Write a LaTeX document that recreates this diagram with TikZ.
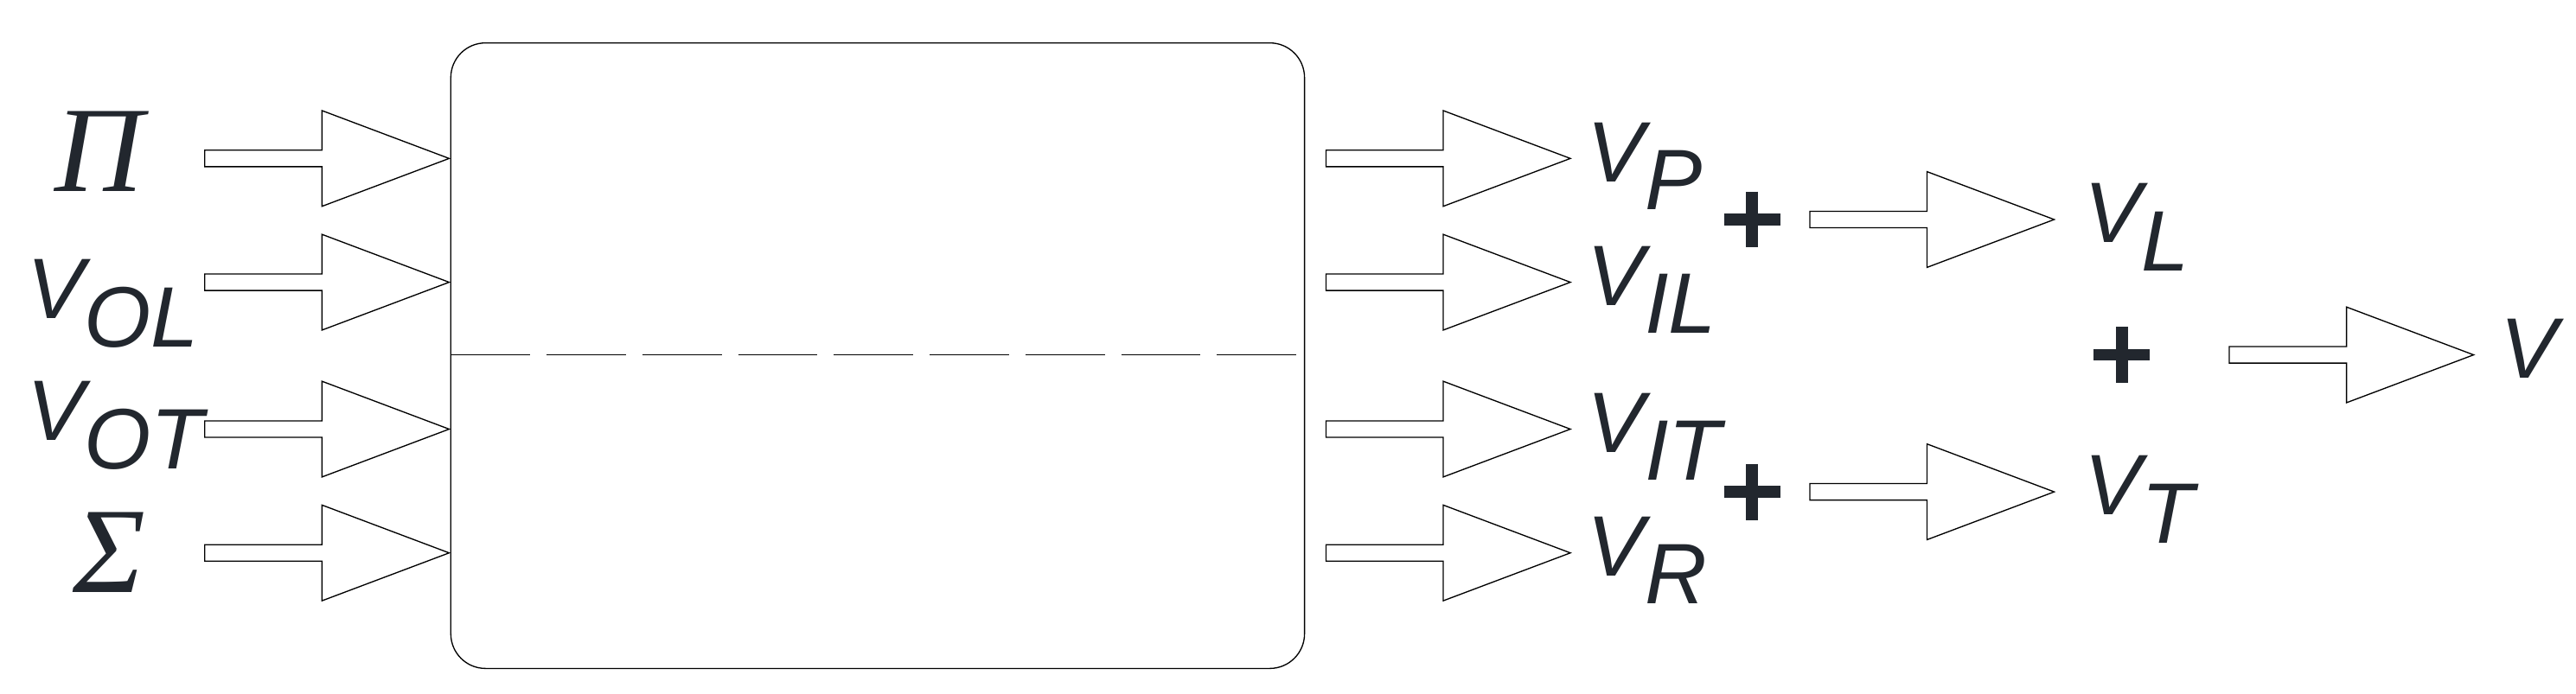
\documentclass[tikz,border=0pt]{standalone}
\usepackage{fontspec}
\newfontfamily\vf{Liberation Sans}
\newfontfamily\gf{Liberation Serif}
\definecolor{ink}{HTML}{22272E}
\begin{document}
\begin{tikzpicture}[x=0.5pt,y=-0.5pt,
  fat/.pic={\draw[line width=0.35pt] (0,-5)--(71,-5)--(71,-29)--(148,0)--(71,29)--(71,5)--(0,5)--cycle;},
  lab/.style={anchor=base west,inner sep=0pt,text=ink,font=\vf\itshape\fontsize{26}{26}\selectfont},
  glab/.style={anchor=base west,inner sep=0pt,text=ink,font=\gf\itshape\fontsize{37}{37}\selectfont},
  plus/.style={ink,line width=3.6pt}]
\useasboundingbox (0,0) rectangle (1560,420);
% box
\draw[line width=0.35pt,rounded corners=10.5pt] (273,26) rectangle (790,405);
\draw[line width=0.35pt,dash pattern=on 24pt off 5pt,dash phase=0pt] (273,215) -- (790,215);
% input arrows
\foreach \y/\n in {96/a,171/b,260/c,335/d} \pic (in\n) at (124,\y) {fat};
% output arrows
\foreach \y/\n in {96/a,171/b,260/c,335/d} \pic (out\n) at (803,\y) {fat};
\pic (mida) at (1096,133) {fat};
\pic (midb) at (1096,298) {fat};
\pic (fin) at (1350,215) {fat};
% left labels
\node[glab] (pi) at (33,116) {Π};
\node[glab] (sig) at (44,359) {Σ};
\node[lab] (vol) at (16,193) {V\raisebox{-8.5pt}{OL}};
\node[lab] (vot) at (16,267) {V\raisebox{-8.5pt}{OT}};
% right labels
\node[lab] (vp) at (961,110) {V\raisebox{-8.5pt}{P}};
\node[lab] (vil) at (961,185) {V\raisebox{-8.5pt}{IL}};
\node[lab] (vit) at (961,274) {V\raisebox{-8.5pt}{IT}};
\node[lab] (vr) at (961,349) {V\raisebox{-8.5pt}{R}};
\node[lab] (vl) at (1262,147) {V\raisebox{-8.5pt}{L}};
\node[lab] (vt) at (1262,312) {V\raisebox{-8.5pt}{T}};
\node[lab] (v) at (1514,229) {V};
% plus signs
\foreach \x/\y in {1061/133,1061/298,1285/215}{
  \draw[plus] (\x-17,\y) -- (\x+17,\y);
  \draw[plus] (\x,\y-17) -- (\x,\y+17);}
\end{tikzpicture}
\end{document}
